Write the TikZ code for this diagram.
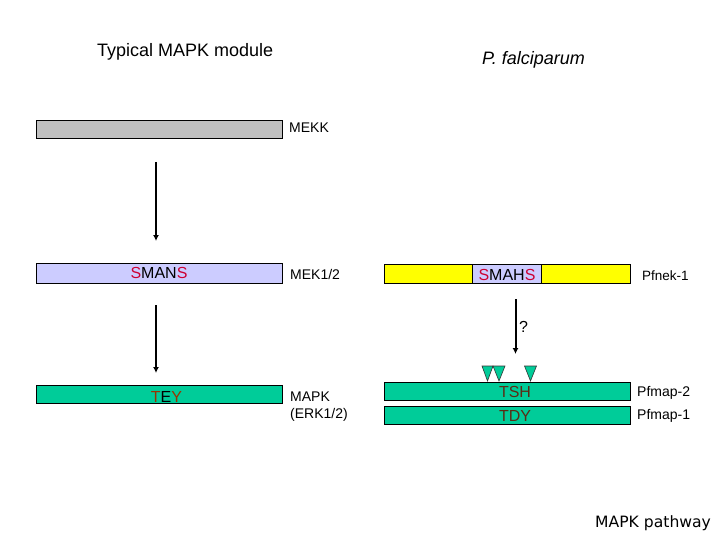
\documentclass[tikz,border=0pt]{standalone}
\usepackage{fontspec}
\setmainfont{Liberation Sans}
\newfontfamily\pathfont{DejaVu Sans}
\usetikzlibrary{arrows.meta}
\definecolor{barGray}{RGB}{192,192,192}
\definecolor{lav}{RGB}{204,204,255}
\definecolor{grn}{RGB}{0,204,153}
\definecolor{ylw}{RGB}{255,255,0}
\definecolor{resRed}{RGB}{204,0,51}
\definecolor{resBrown}{RGB}{153,51,0}
\definecolor{resDark}{RGB}{90,45,20}
\begin{document}
\begin{tikzpicture}[x=1pt,y=-1pt,
  bar/.style={draw=black, line width=0.9pt, inner sep=0pt, minimum height=18pt, minimum width=246pt, anchor=north west},
  lbl/.style={anchor=base west, inner sep=0pt, font=\fontsize{14}{16}\selectfont},
  res/.style={anchor=base, inner sep=0pt, font=\fontsize{16}{18}\selectfont},
  ttl/.style={anchor=base west, inner sep=0pt, font=\fontsize{18}{20}\selectfont},
  arr/.style={line width=2pt, -{Latex[length=6pt,width=6pt]}},
  tri/.style={fill=grn, draw=black!80, line width=0.6pt}]
\useasboundingbox (0,0) rectangle (720,540);
% titles
\node[ttl] (t1) at (97,56.5) {Typical MAPK module};
\node[ttl, font=\fontsize{18}{20}\selectfont\itshape] (t2) at (482,65) {P. falciparum};
% bars
\node[bar, fill=barGray] (mekk) at (36,120) {};
\node[bar, fill=lav, minimum height=20pt] (mek) at (36,263) {};
\node[bar, fill=grn] (mapk) at (36,385) {};
\node[bar, fill=ylw, minimum height=19pt] (pfnek) at (384,264) {};
\node[draw=black, line width=0.9pt, fill=lav, inner sep=0pt, minimum width=69pt, minimum height=19pt, anchor=north west] (smahsbox) at (472,264) {};
\node[bar, fill=grn] (pfmap2) at (384,382) {};
\node[bar, fill=grn] (pfmap1) at (384,406) {};
% residues
\node[res] (smans) at (159,278) {\textcolor{resRed}{S}MAN\textcolor{resRed}{S}};
\node[res] (tey) at (166.5,402) {\textcolor{resBrown}{T}E\textcolor{resBrown}{Y}};
\node[res] (smahs) at (507,280) {\textcolor{resRed}{S}MAH\textcolor{resRed}{S}};
\node[res, text=resDark] (tsh) at (515,397) {TSH};
\node[res, text=resDark] (tdy) at (515,421.5) {TDY};
% labels
\node[lbl] (l1) at (289,133) {MEKK};
\node[lbl] (l2) at (290,279) {MEK1/2};
\node[lbl] (l3) at (290,401) {MAPK};
\node[lbl] (l4) at (290,418) {(ERK1/2)};
\node[lbl, font=\fontsize{13.5}{16}\selectfont] (l5) at (642,280) {Pfnek-1};
\node[lbl] (l6) at (637,396) {Pfmap-2};
\node[lbl] (l7) at (637,419) {Pfmap-1};
\node[lbl, font=\fontsize{16}{18}\selectfont] (q) at (519,332.5) {?};
% arrows
\coordinate (a1s) at (156,162);
\coordinate (a1e) at (156,241);
\coordinate (a2s) at (156,305);
\coordinate (a2e) at (156,373);
\coordinate (a3s) at (515.5,299);
\coordinate (a3e) at (515.5,354);
\draw[arr] (a1s) -- (a1e);
\draw[arr] (a2s) -- (a2e);
\draw[arr] (a3s) -- (a3e);
% triangles
\draw[tri] (482,366) -- (493,366) -- (487.5,381) -- cycle;
\draw[tri] (493,366) -- (505,366) -- (499,381) -- cycle;
\draw[tri] (524.5,366) -- (536.5,366) -- (530.5,381) -- cycle;
% footer
\node[anchor=base west, inner sep=0pt, font=\pathfont\fontsize{15.6}{17}\selectfont] (foot) at (595,527.5) {MAPK pathway};
\end{tikzpicture}
\end{document}
